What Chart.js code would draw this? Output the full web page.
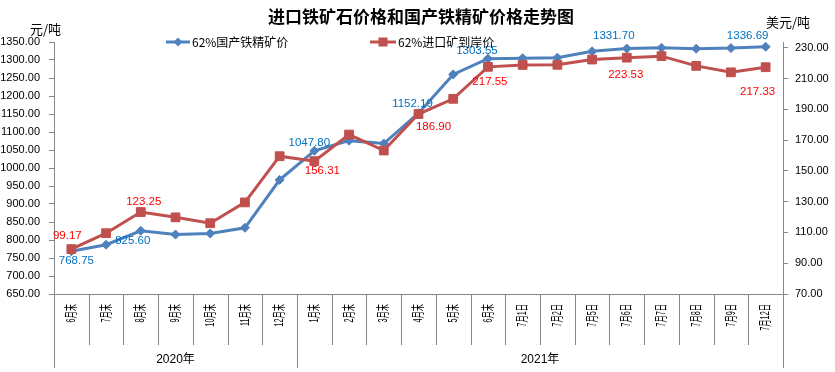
<!DOCTYPE html>
<html>
<head>
<meta charset="utf-8">
<script src="https://cdn.jsdelivr.net/npm/chart.js@4.4.1/dist/chart.umd.min.js"></script>
<style>
  html, body { margin: 0; padding: 0; background: #fff; }
  canvas { display: block; }
</style>
</head>
<body>
<canvas id="chart" width="835" height="372"></canvas>
<script>
// ---- data ----
const categories = ['6月末', '7月末', '8月末', '9月末', '10月末', '11月末', '12月末',
  '1月末', '2月末', '3月末', '4月末', '5月末', '6月末',
  '7月1日', '7月2日', '7月5日', '7月6日', '7月7日', '7月8日', '7月9日', '7月12日'];
const yearLabels = ['2020年', '2021年'];
const yearSizes  = [7, 14];

const domesticPrice = [768.75, 787, 825.60, 815, 818, 834, 967, 1047.80, 1076, 1068, 1152.19,
  1260, 1303.55, 1305, 1306.5, 1324, 1331.70, 1334, 1331.5, 1333, 1336.69];
const importPrice = [99.17, 109.5, 123.25, 119.8, 116, 129.5, 159.5, 156.31, 173.6, 163.2, 186.90,
  196.8, 217.55, 218.8, 218.9, 222.3, 223.53, 224.5, 218.2, 214, 217.33];

const leftTicks  = [650, 700, 750, 800, 850, 900, 950, 1000, 1050, 1100, 1150, 1200, 1250, 1300, 1350];
const rightTicks = [70, 90, 110, 130, 150, 170, 190, 210, 230];

const domesticName = '62%国产铁精矿价';
const importName   = '62%进口矿到岸价';

// which points carry a value label
const domesticLabelIdx = [0, 2, 7, 10, 12, 16, 20];
const importLabelIdx   = [0, 2, 7, 10, 12, 16, 20];

// ---- styling ----
const BLUE = '#4F81BD';
const RED  = '#C0504D';
const AXIS = '#868686';
const NUM_FONT = '"Liberation Sans", "Noto Sans CJK SC", sans-serif';
const CJK_FONT = '"Noto Sans CJK SC", "Liberation Sans", sans-serif';

// label offsets (px) relative to the point, same order as the idx lists
const domesticLabelOff = [[5, 10], [-8, 10], [-5, -8], [-6, -9], [-11, -8], [-13, -13], [-18, -11]];
const importLabelOff   = [[-4, -13], [3, -10], [8, 10], [15, 13], [2, 15], [-1, 17], [-8, 25]];

const fmt = v => v.toFixed(2);

// data labels
const valueLabels = {
  id: 'valueLabels',
  afterDatasetsDraw(chart) {
    const ctx = chart.ctx;
    ctx.save();
    ctx.font = '11.5px ' + NUM_FONT;
    ctx.textAlign = 'center';
    ctx.textBaseline = 'middle';
    const put = (dsIdx, idxs, offs, color) => {
      const meta = chart.getDatasetMeta(dsIdx);
      const data = chart.data.datasets[dsIdx].data;
      ctx.fillStyle = color;
      idxs.forEach((i, k) => {
        const p = meta.data[i];
        ctx.fillText(fmt(data[i]), p.x + offs[k][0], p.y + offs[k][1]);
      });
    };
    put(0, domesticLabelIdx, domesticLabelOff, '#0070C0');
    put(1, importLabelIdx, importLabelOff, '#FF0000');
    ctx.restore();
  }
};

// title, axis titles, legend, two-level category axis
const decor = {
  id: 'decor',
  afterDraw(chart) {
    const { ctx, chartArea: a } = chart;
    const x = chart.scales.x;
    ctx.save();

    // title
    ctx.fillStyle = '#000';
    ctx.font = 'bold 17px ' + CJK_FONT;
    ctx.textAlign = 'center';
    ctx.textBaseline = 'middle';
    ctx.fillText('进口铁矿石价格和国产铁精矿价格走势图', 421, 17);

    // axis titles
    ctx.font = '13px ' + CJK_FONT;
    ctx.textAlign = 'left';
    ctx.fillText('元/吨', 30, 29);
    ctx.fillText('美元/吨', 766, 22);

    // legend
    const ly = 42;
    ctx.lineWidth = 3;
    ctx.strokeStyle = BLUE;
    ctx.beginPath(); ctx.moveTo(166, ly); ctx.lineTo(190, ly); ctx.stroke();
    ctx.fillStyle = BLUE;
    ctx.beginPath();
    ctx.moveTo(178 - 4.5, ly); ctx.lineTo(178, ly - 4.5); ctx.lineTo(178 + 4.5, ly); ctx.lineTo(178, ly + 4.5);
    ctx.closePath(); ctx.fill();
    ctx.strokeStyle = RED;
    ctx.beginPath(); ctx.moveTo(370, ly); ctx.lineTo(396, ly); ctx.stroke();
    ctx.fillStyle = RED;
    ctx.fillRect(383 - 4.5, ly - 4.5, 9, 9);
    ctx.fillStyle = '#000';
    ctx.font = '12px ' + CJK_FONT;
    ctx.textBaseline = 'middle';
    ctx.fillText(domesticName, 192, ly);
    ctx.fillText(importName, 398, ly);

    // category separators
    const n = categories.length;
    const w = (a.right - a.left) / n;
    const groupEdges = [0];
    yearSizes.forEach(s => groupEdges.push(groupEdges[groupEdges.length - 1] + s));
    ctx.strokeStyle = AXIS;
    ctx.lineWidth = 1;
    for (let i = 0; i <= n; i++) {
      const bx = Math.round(a.left + i * w) + 0.5;
      const end = groupEdges.includes(i) ? 368 : 345;
      ctx.beginPath(); ctx.moveTo(bx, a.bottom); ctx.lineTo(bx, end); ctx.stroke();
    }

    // rotated category labels (narrow, reading bottom to top)
    ctx.fillStyle = '#000';
    ctx.font = '13px ' + NUM_FONT;
    ctx.textAlign = 'right';
    ctx.textBaseline = 'middle';
    categories.forEach((c, i) => {
      ctx.save();
      ctx.translate(x.getPixelForValue(i), a.bottom + 10);
      ctx.rotate(-Math.PI / 2);
      ctx.scale(0.56, 1);
      ctx.fillText(c, 0, 0);
      ctx.restore();
    });

    // year labels
    ctx.textAlign = 'center';
    ctx.font = '12px ' + NUM_FONT;
    yearLabels.forEach((y, g) => {
      const cx = a.left + (groupEdges[g] + groupEdges[g + 1]) / 2 * w;
      ctx.fillText(y, cx, 360);
    });

    ctx.restore();
  }
};

new Chart(document.getElementById('chart'), {
  type: 'line',
  data: {
    labels: categories,
    datasets: [
      {
        label: domesticName, data: domesticPrice, yAxisID: 'y', order: 1,
        borderColor: BLUE, backgroundColor: BLUE, borderWidth: 3,
        pointStyle: 'rectRot', pointRadius: 4.5, pointBorderWidth: 1, tension: 0
      },
      {
        label: importName, data: importPrice, yAxisID: 'y1', order: 0,
        borderColor: RED, backgroundColor: RED, borderWidth: 3,
        pointStyle: 'rect', pointRadius: 6.2, pointBorderWidth: 1, tension: 0
      }
    ]
  },
  options: {
    responsive: false,
    animation: false,
    devicePixelRatio: 1,
    layout: { padding: { top: 42, left: 0, right: 0, bottom: 0 } },
    plugins: { legend: { display: false }, tooltip: { enabled: false } },
    scales: {
      x: {
        offset: true,
        grid: { display: false },
        ticks: { display: false },
        border: { color: AXIS },
        afterFit: s => { s.height = 78; }
      },
      y: {
        position: 'left', min: 650, max: 1350,
        afterBuildTicks: s => { s.ticks = leftTicks.map(v => ({ value: v })); },
        afterFit: s => { s.width = 54; },
        grid: { drawOnChartArea: false, tickLength: 5, color: AXIS },
        border: { color: AXIS },
        ticks: { padding: 9, color: '#000', font: { family: NUM_FONT, size: 11 }, callback: v => fmt(v) }
      },
      y1: {
        position: 'right', min: 70, max: 233.7,
        afterBuildTicks: s => { s.ticks = rightTicks.map(v => ({ value: v })); },
        afterFit: s => { s.width = 52; },
        grid: { drawOnChartArea: false, tickLength: 5, color: AXIS },
        border: { color: AXIS },
        ticks: { padding: 7, color: '#000', font: { family: NUM_FONT, size: 11 }, callback: v => fmt(v) }
      }
    }
  },
  plugins: [valueLabels, decor]
});
</script>
</body>
</html>
